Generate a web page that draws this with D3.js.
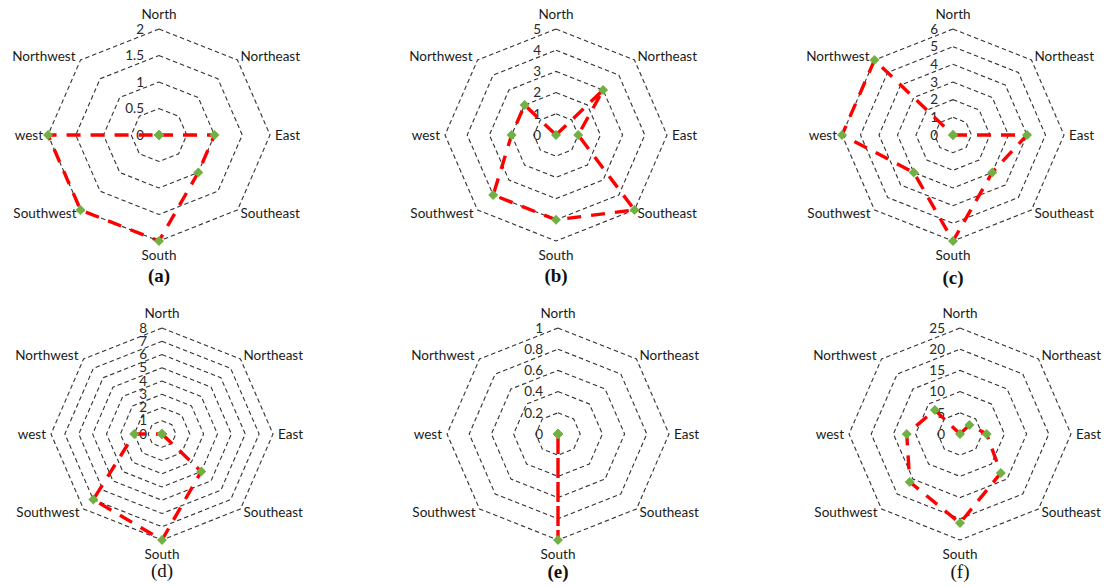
<!DOCTYPE html>
<html>
<head>
<meta charset="utf-8">
<script src="https://cdn.jsdelivr.net/npm/d3@7"></script>
<style>
  body { margin: 0; background: #fff; }
  text { font-family: Lato, "Open Sans", sans-serif; }
</style>
</head>
<body>
<script>
// direction names, clockwise from the top
let directions = ['North', 'Northeast', 'East', 'Southeast', 'South', 'Southwest', 'west', 'Northwest'];

// values per panel, same order as directions
let valuesA = [0, 0, 1, 1, 2, 2, 2, 0];
let valuesB = [0, 3, 1, 5, 4, 4, 2, 2];
let valuesC = [0, 0, 4, 3, 6, 3, 6, 6];
let valuesD = [0, 0, 0, 4, 8, 7, 2, 0];
let valuesE = [0, 0, 0, 0, 1, 0, 0, 0];
let valuesF = [0, 3, 6, 13, 21, 16, 12, 8];

// radial tick labels per panel
let ticksA = [0, 0.5, 1, 1.5, 2];
let ticksB = [0, 1, 2, 3, 4, 5];
let ticksC = [0, 1, 2, 3, 4, 5, 6];
let ticksD = [0, 1, 2, 3, 4, 5, 6, 7, 8];
let ticksE = [0, 0.2, 0.4, 0.6, 0.8, 1];
let ticksF = [0, 5, 10, 15, 20, 25];

let panelNames = ['(a)', '(b)', '(c)', '(d)', '(e)', '(f)'];

let width = 1107, height = 587;
let rx = 111, ry = 106;

let svg = d3.select('body').append('svg')
    .attr('width', width)
    .attr('height', height);

let panels = [
    {values: valuesA, ticks: ticksA, cx: 159, cy: 135, ly: 275, bold: true},
    {values: valuesB, ticks: ticksB, cx: 556, cy: 135, ly: 275, bold: true},
    {values: valuesC, ticks: ticksC, cx: 953, cy: 135, ly: 277, bold: true},
    {values: valuesD, ticks: ticksD, cx: 162, cy: 434, ly: 570, bold: false},
    {values: valuesE, ticks: ticksE, cx: 558, cy: 434, ly: 571, bold: true},
    {values: valuesF, ticks: ticksF, cx: 960, cy: 434, ly: 571, bold: false}
];

let angle = d3.scaleLinear().domain([0, directions.length]).range([0, 2 * Math.PI]);

// label offsets around the outer ring
let labelPos = [
    {dx: 0, dy: -15, anchor: 'middle'},
    {dx: 3, dy: -4, anchor: 'start'},
    {dx: 5, dy: 0, anchor: 'start'},
    {dx: 3, dy: 3, anchor: 'start'},
    {dx: 0, dy: 14, anchor: 'middle'},
    {dx: -4, dy: 3, anchor: 'end'},
    {dx: -5, dy: 0, anchor: 'end'},
    {dx: -5, dy: -4, anchor: 'end'}
];

function drawPanel(p, idx) {
    let maxV = p.ticks[p.ticks.length - 1];
    let r = d3.scaleLinear().domain([0, maxV]).range([0, 1]);
    let pt = (v, i) => [p.cx + rx * r(v) * Math.sin(angle(i)), p.cy - ry * r(v) * Math.cos(angle(i))];

    let g = svg.append('g').attr('class', 'panel');
    let closed = d3.line().curve(d3.curveLinearClosed);

    // dashed octagon rings
    g.selectAll('.ring').data(p.ticks.slice(1)).enter().append('path')
        .attr('class', 'ring')
        .attr('d', t => closed(directions.map((d, i) => pt(t, i))))
        .style('fill', 'none')
        .style('stroke', '#333')
        .style('stroke-width', 1.1)
        .style('stroke-dasharray', '4.5,3');

    // tick labels along north axis
    g.selectAll('.tick').data(p.ticks).enter().append('text')
        .attr('class', 'tick')
        .attr('x', p.cx - 15)
        .attr('y', t => pt(t, 0)[1])
        .attr('dy', '0.35em')
        .attr('text-anchor', 'end')
        .style('font-size', '13.5px')
        .style('fill', '#2a2a2a')
        .text(t => t);

    // direction labels
    g.selectAll('.dir').data(directions).enter().append('text')
        .attr('class', 'dir')
        .attr('x', (d, i) => pt(maxV, i)[0] + labelPos[i].dx)
        .attr('y', (d, i) => pt(maxV, i)[1] + labelPos[i].dy)
        .attr('dy', '0.35em')
        .attr('text-anchor', (d, i) => labelPos[i].anchor)
        .style('font-size', '13.5px')
        .style('fill', '#1a1a1a')
        .text(d => d);

    // data line
    g.append('path')
        .attr('d', closed(p.values.map((v, i) => pt(v, i))))
        .style('fill', 'none')
        .style('stroke', '#ff0000')
        .style('stroke-width', 3.4)
        .style('stroke-dasharray', '14,10');

    // diamond markers
    let diamond = d3.symbol().type(d3.symbolSquare).size(50);
    g.selectAll('.marker').data(p.values).enter().append('path')
        .attr('class', 'marker')
        .attr('d', diamond)
        .attr('transform', (v, i) => {
            let c = pt(v, i);
            return 'translate(' + c[0] + ',' + c[1] + ') rotate(45)';
        })
        .style('fill', '#71b144');

    // panel caption
    g.append('text')
        .attr('x', p.cx)
        .attr('y', p.ly)
        .attr('dy', '0.35em')
        .attr('text-anchor', 'middle')
        .style('font-family', '"Liberation Serif", serif')
        .style('font-weight', p.bold ? 'bold' : 'normal')
        .style('font-size', '19px')
        .style('fill', '#111')
        .text(panelNames[idx]);
}

panels.forEach(drawPanel);
</script>
</body>
</html>
